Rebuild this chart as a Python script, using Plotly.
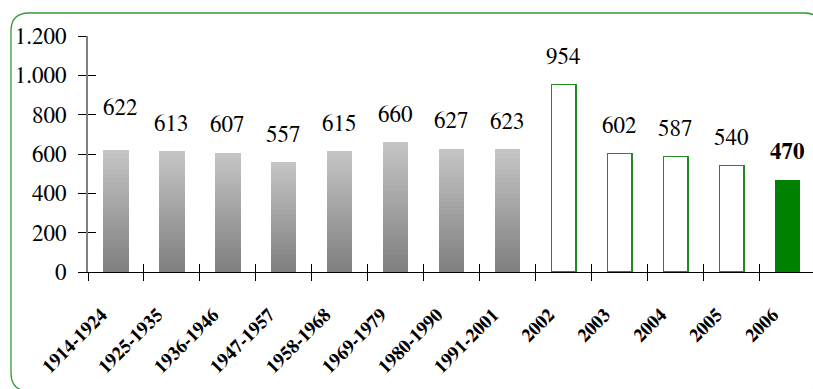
import plotly.graph_objects as go

# ---- data ----
categories = ["1914-1924", "1925-1935", "1936-1946", "1947-1957", "1958-1968",
              "1969-1979", "1980-1990", "1991-2001", "2002", "2003", "2004", "2005", "2006"]
historic_values = [622, 613, 607, 557, 615, 660, 627, 623]
recent_values = [954, 602, 587, 540]
current_value = [470]
y_tick_values = [0, 200, 400, 600, 800, 1000, 1200]
y_tick_labels = ["0", "200", "400", "600", "800", "1.000", "1.200"]

hist_cats = categories[:8]
recent_cats = categories[8:12]
current_cats = categories[12:]
all_values = historic_values + recent_values + current_value

# ---- layout geometry (pixels) ----
W, H = 813, 389
ML, MR, MT, MB = 88, 0, 36, 117
PW, PH = W - ML - MR, H - MT - MB
FONT = "FreeSerif, 'Nimbus Roman', Tinos, Times, 'Liberation Serif', 'DejaVu Serif', serif"

fig = go.Figure()

# gradient-filled historic bars: stacked slices, dark at the bottom, light at the top
N = 30
lo, hi = 128, 196
for k in range(N):
    g = round(lo + (hi - lo) * k / (N - 1))
    fig.add_trace(go.Bar(
        x=hist_cats, y=[v / N for v in historic_values],
        marker=dict(color=f"rgb({g},{g},{g})", line=dict(width=0)),
        width=0.45, hoverinfo="skip", showlegend=False))

fig.add_trace(go.Bar(
    x=recent_cats, y=recent_values,
    marker=dict(color="white", line=dict(color="#228b22", width=1.3)),
    width=0.44, showlegend=False))
fig.add_trace(go.Bar(
    x=current_cats, y=current_value,
    marker=dict(color="#008000", line=dict(width=0)),
    width=0.44, showlegend=False))

# invisible helper traces for the overlay axes (crossing ticks, shifted labels)
for xa in ("x2", "x3"):
    fig.add_trace(go.Scatter(
        x=categories, y=all_values, xaxis=xa, yaxis="y2", mode="markers",
        marker=dict(opacity=0), hoverinfo="skip", showlegend=False))

# value labels (x given as category index)
for i, v in enumerate(all_values):
    last = i == len(all_values) - 1
    fig.add_annotation(
        x=i, y=v, text=f"<b>{v}</b>" if last else str(v), showarrow=False,
        yanchor="middle", yshift=41 if i == 0 else 27, xshift=5 if i == 0 else 0,
        font=dict(family=FONT, size=23, color="black"))

xrange = [-0.5, 12.455]
shift = 0.26
fig.update_layout(
    width=W, height=H, margin=dict(l=ML, r=MR, t=MT, b=MB, autoexpand=False),
    paper_bgcolor="white", plot_bgcolor="white", barmode="stack",
    showlegend=False, font=dict(family=FONT),
    xaxis=dict(type="category", categoryorder="array", categoryarray=categories,
               range=xrange, showline=True, linecolor="black", linewidth=1,
               ticks="outside", ticklen=8, tickcolor="black", tickwidth=1,
               tickson="boundaries", showticklabels=False,
               showgrid=False, zeroline=False),
    yaxis=dict(range=[0, 1200], tickvals=y_tick_values, ticktext=y_tick_labels,
               showline=True, linecolor="#808080", linewidth=2,
               ticks="outside", ticklen=8, tickcolor="black", tickwidth=1,
               showgrid=False, zeroline=False, ticklabelstandoff=7,
               tickfont=dict(family=FONT, size=23, color="black")),
    xaxis2=dict(type="category", categoryorder="array", categoryarray=categories,
                overlaying="x", anchor="y", side="bottom", range=xrange,
                ticks="inside", ticklen=8, tickcolor="black", tickwidth=1,
                tickson="boundaries", showticklabels=False, showline=False,
                showgrid=False, zeroline=False),
    xaxis3=dict(type="category", categoryorder="array", categoryarray=categories,
                overlaying="x", anchor="y", side="bottom",
                range=[xrange[0] + shift, xrange[1] + shift],
                ticks="", tickangle=-45, showline=False, showgrid=False, zeroline=False,
                tickfont=dict(family=FONT, size=19, color="black", weight="bold"),
                ticklabelstandoff=27),
    yaxis2=dict(range=[0, 1200], tickvals=y_tick_values, overlaying="y", anchor="x",
                side="left", ticks="inside", ticklen=8, tickcolor="black", tickwidth=1,
                showticklabels=False, showline=False, showgrid=False, zeroline=False),
)

# rounded green frame around the chart (decoration); x in pixels from the plot's left edge
def px_x(p):
    return p - ML

def px_y(p):
    return (H - MB - p) / PH

L, T, R, B, r = 11, 13, 822, 391, 18
ry = r / PH
path = (f"M {px_x(L)},{px_y(T + r)} "
        f"Q {px_x(L)},{px_y(T)} {px_x(L + r)},{px_y(T)} "
        f"L {px_x(R - r)},{px_y(T)} "
        f"Q {px_x(R)},{px_y(T)} {px_x(R)},{px_y(T + r)} "
        f"L {px_x(R)},{px_y(B - r)} "
        f"Q {px_x(R)},{px_y(B)} {px_x(R - r)},{px_y(B)} "
        f"L {px_x(L + r)},{px_y(B)} "
        f"Q {px_x(L)},{px_y(B)} {px_x(L)},{px_y(B - r)} Z")
fig.add_shape(type="path", path=path, xref="paper", yref="paper",
              xsizemode="pixel", xanchor=0,
              line=dict(color="#339933", width=1.3), layer="below")

fig.write_html("out.html")
